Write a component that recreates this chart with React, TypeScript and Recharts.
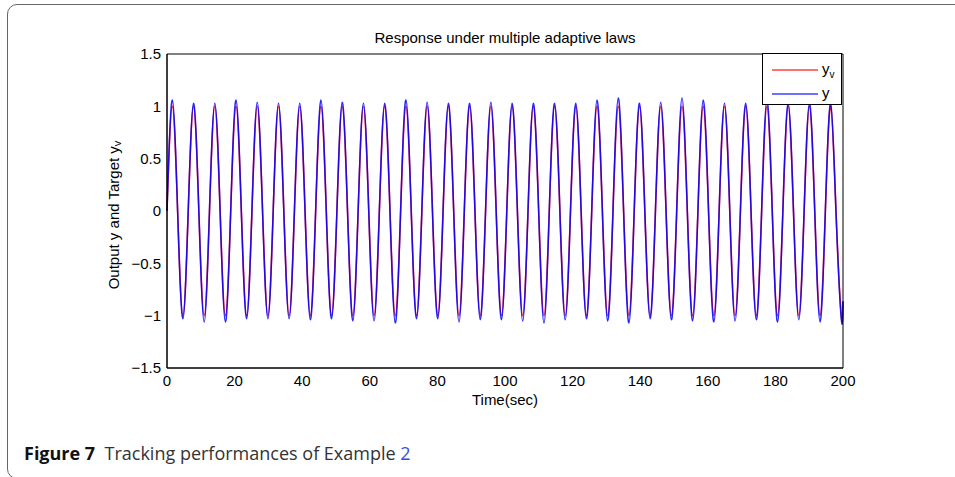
import { Label, Legend, Line, LineChart, XAxis, YAxis } from 'recharts'

// sample times (sec): zero crossings, peaks and troughs
const timeSec = [
    0, 1.57, 3.14, 4.71,
    6.28, 7.85, 9.42, 11.0,
    12.57, 14.14, 15.71, 17.28,
    18.85, 20.42, 21.99, 23.56,
    25.13, 26.7, 28.27, 29.85,
    31.42, 32.99, 34.56, 36.13,
    37.7, 39.27, 40.84, 42.41,
    43.98, 45.55, 47.12, 48.69,
    50.27, 51.84, 53.41, 54.98,
    56.55, 58.12, 59.69, 61.26,
    62.83, 64.4, 65.97, 67.54,
    69.12, 70.69, 72.26, 73.83,
    75.4, 76.97, 78.54, 80.11,
    81.68, 83.25, 84.82, 86.39,
    87.96, 89.54, 91.11, 92.68,
    94.25, 95.82, 97.39, 98.96,
    100.53, 102.1, 103.67, 105.24,
    106.81, 108.38, 109.96, 111.53,
    113.1, 114.67, 116.24, 117.81,
    119.38, 120.95, 122.52, 124.09,
    125.66, 127.23, 128.81, 130.38,
    131.95, 133.52, 135.09, 136.66,
    138.23, 139.8, 141.37, 142.94,
    144.51, 146.08, 147.65, 149.23,
    150.8, 152.37, 153.94, 155.51,
    157.08, 158.65, 160.22, 161.79,
    163.36, 164.93, 166.5, 168.07,
    169.65, 171.22, 172.79, 174.36,
    175.93, 177.5, 179.07, 180.64,
    182.21, 183.78, 185.35, 186.92,
    188.5, 190.07, 191.64, 193.21,
    194.78, 196.35, 197.92, 199.49,
    200,
]

// target y_v (red)
const targetYv = [
    0, 1, 0, -1,
    0, 1, 0, -1,
    0, 1, 0, -1,
    0, 1, 0, -1,
    0, 1, 0, -1,
    0, 1, 0, -1,
    0, 1, 0, -1,
    0, 1, 0, -1,
    0, 1, 0, -1,
    0, 1, 0, -1,
    0, 1, 0, -1,
    0, 1, 0, -1,
    0, 1, 0, -1,
    0, 1, 0, -1,
    0, 1, 0, -1,
    0, 1, 0, -1,
    0, 1, 0, -1,
    0, 1, 0, -1,
    0, 1, 0, -1,
    0, 1, 0, -1,
    0, 1, 0, -1,
    0, 1, 0, -1,
    0, 1, 0, -1,
    0, 1, 0, -1,
    0, 1, 0, -1,
    0, 1, 0, -1,
    0, 1, 0, -1,
    0, 1, 0, -1,
    0, 1, 0, -1,
    0, 1, 0, -1,
    0, 1, 0, -1,
    0, 1, 0, -1,
    -0.87,
]

// output y (blue), overshoots a bit at every peak / trough
const outputY = [
    0, 1.06, 0, -1.03,
    0, 1.03, 0, -1.06,
    0, 1.03, 0, -1.06,
    0, 1.06, 0, -1.03,
    0, 1.04, 0, -1.03,
    0, 1.03, 0, -1.03,
    0, 1.03, 0, -1.04,
    0, 1.06, 0, -1.03,
    0, 1.04, 0, -1.05,
    0, 1.03, 0, -1.05,
    0, 1.03, 0, -1.07,
    0, 1.06, 0, -1.03,
    0, 1.04, 0, -1.03,
    0, 1.03, 0, -1.06,
    0, 1.03, 0, -1.04,
    0, 1.04, 0, -1.04,
    0, 1.03, 0, -1.05,
    0, 1.03, 0, -1.07,
    0, 1.03, 0, -1.04,
    0, 1.03, 0, -1.03,
    0, 1.06, 0, -1.05,
    0, 1.08, 0, -1.07,
    0, 1.03, 0, -1.03,
    0, 1.04, 0, -1.04,
    0, 1.08, 0, -1.05,
    0, 1.06, 0, -1.06,
    0, 1.03, 0, -1.05,
    0, 1.03, 0, -1.04,
    0, 1.06, 0, -1.06,
    0, 1.03, 0, -1.04,
    0, 1.03, 0, -1.06,
    0, 1.03, 0, -1.03,
    -0.86,
]

const xTicks = [0, 20, 40, 60, 80, 100, 120, 140, 160, 180, 200]
const yTicks = [-1.5, -1, -0.5, 0, 0.5, 1, 1.5]

const chartData = timeSec.map((t, i) => ({ t, yv: targetYv[i], y: outputY[i] }))

const axisFont = '"Liberation Sans", Arial, sans-serif'
const RED = '#ff2a2a'
const BLUE = '#0000ff'

const fmtTick = (v: number) => String(v).replace('-', '\u2212')

function YTitle({ viewBox }: any) {
    const cx = viewBox.x + 6
    const cy = viewBox.y + viewBox.height / 2 + 4
    return (
        <text
            x={cx}
            y={cy}
            transform={`rotate(-90 ${cx} ${cy})`}
            textAnchor="middle"
            dominantBaseline="central"
            fontSize={15}
            fontFamily={axisFont}
            fill="#000"
        >
            Output y and Target y
            <tspan dy={4} fontSize={11}>v</tspan>
        </text>
    )
}

function LegendBox() {
    const row = (color: string, top: number, sub: boolean) => (
        <div style={{ position: 'absolute', left: 0, top, width: '100%', height: 20 }}>
            <div style={{ position: 'absolute', left: 9, top: 9, width: 46, height: 0, borderTop: `2px solid ${color}` }} />
            <span style={{ position: 'absolute', left: 59, top: 0, fontSize: 15, lineHeight: '18px' }}>
                y{sub && <sub style={{ fontSize: 10, verticalAlign: -4 }}>v</sub>}
            </span>
        </div>
    )
    return (
        <div
            style={{
                position: 'relative',
                width: 80,
                height: 52,
                border: '1.5px solid #000',
                boxSizing: 'border-box',
                background: '#fff',
                fontFamily: axisFont,
                color: '#000',
            }}
        >
            {row('#ff7070', 6, true)}
            {row('#7070ff', 30, false)}
        </div>
    )
}

const tickText = { fill: '#000', fontSize: 15, fontFamily: axisFont }

export default function App() {
    return (
        <div style={{ position: 'absolute', left: 0, top: 0, width: 955, height: 477, overflow: 'hidden', background: '#fff' }}>
            <div
                style={{
                    position: 'absolute',
                    left: 7,
                    top: 4,
                    width: 1000,
                    height: 475,
                    boxSizing: 'border-box',
                    border: '1.5px solid #666',
                    borderRadius: 10,
                }}
            />
            <div style={{ position: 'absolute', left: 0, top: 0 }}>
                <LineChart width={955} height={477} data={chartData} margin={{ top: 54, right: 112, bottom: 69, left: 107 }}>
                    {/* labelled axes (bottom, left) */}
                    <XAxis
                        xAxisId="bottom"
                        dataKey="t"
                        type="number"
                        domain={[0, 200]}
                        ticks={xTicks}
                        height={40}
                        tickSize={0}
                        tickLine={false}
                        tickMargin={7}
                        stroke="#000"
                        tick={tickText}
                    >
                        <Label value="Time(sec)" position="insideBottom" offset={3} fontSize={15} fontFamily={axisFont} fill="#000" />
                    </XAxis>
                    <YAxis
                        yAxisId="left"
                        type="number"
                        domain={[-1.5, 1.5]}
                        ticks={yTicks}
                        width={60}
                        tickSize={0}
                        tickLine={false}
                        tickMargin={6}
                        tickFormatter={fmtTick}
                        stroke="#000"
                        tick={tickText}
                        label={<YTitle />}
                    />
                    {/* mirrored axes: inward tick marks on all four sides of the box */}
                    <XAxis
                        xAxisId="bottomIn"
                        dataKey="t"
                        type="number"
                        domain={[0, 200]}
                        ticks={xTicks}
                        mirror
                        tickSize={5}
                        tick={false}
                        stroke="#000"
                    />
                    <XAxis
                        xAxisId="top"
                        orientation="top"
                        dataKey="t"
                        type="number"
                        domain={[0, 200]}
                        ticks={xTicks}
                        mirror
                        tickSize={5}
                        tick={false}
                        stroke="#000"
                    >
                        <Label value="Response under multiple adaptive laws" position="top" offset={11} fontSize={15} fontFamily={axisFont} fill="#000" />
                    </XAxis>
                    <YAxis
                        yAxisId="leftIn"
                        type="number"
                        domain={[-1.5, 1.5]}
                        ticks={yTicks}
                        mirror
                        tickSize={5}
                        tick={false}
                        stroke="#000"
                    />
                    <YAxis
                        yAxisId="right"
                        orientation="right"
                        type="number"
                        domain={[-1.5, 1.5]}
                        ticks={yTicks}
                        mirror
                        tickSize={5}
                        tick={false}
                        stroke="#000"
                    />
                    <Line
                        xAxisId="bottom"
                        yAxisId="left"
                        dataKey="yv"
                        name="yv"
                        type="natural"
                        stroke={RED}
                        strokeWidth={1.6}
                        dot={false}
                        isAnimationActive={false}
                    />
                    <Line
                        xAxisId="bottom"
                        yAxisId="left"
                        dataKey="y"
                        name="y"
                        type="natural"
                        stroke={BLUE}
                        strokeOpacity={0.85}
                        strokeWidth={1.5}
                        dot={false}
                        isAnimationActive={false}
                    />
                    <Legend
                        layout="vertical"
                        align="center"
                        verticalAlign="middle"
                        content={<LegendBox />}
                        wrapperStyle={{ left: 762, top: 53, width: 80, height: 52 }}
                    />
                </LineChart>
            </div>
            <div
                style={{
                    position: 'absolute',
                    left: 24,
                    top: 441,
                    fontFamily: '"Open Sans", "Noto Sans", sans-serif',
                    fontSize: 18,
                    color: '#333',
                    whiteSpace: 'pre',
                }}
            >
                <span style={{ fontWeight: 700, color: '#111' }}>Figure 7</span>
                {'  Tracking performances of Example '}
                <span style={{ color: '#3a4fd8' }}>2</span>
            </div>
        </div>
    )
}
